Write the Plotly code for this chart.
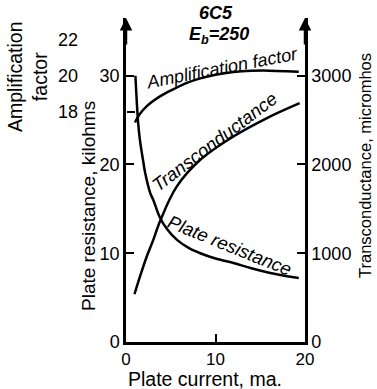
import plotly.graph_objects as go

# Plate resistance (kilohms) vs plate current (ma)
rp_current = [1.05, 1.35, 1.55, 1.9, 2.15, 2.7, 3.05, 3.8, 4.6, 5.7, 7.0, 8.3, 10, 12, 14, 16, 18, 19.3]
rp_kilohms = [30, 24.8, 22.8, 20.5, 19.0, 16.8, 16.0, 14.0, 12.7, 11.5, 10.6, 10.0, 9.4, 8.9, 8.3, 7.8, 7.4, 7.2]

# Transconductance (micromhos)
gm_current = [0.95, 1.56, 2.31, 3.05, 3.8, 5.66, 8.27, 12, 15.7, 19.4]
gm_micromhos = [540, 736, 960, 1150, 1360, 1750, 2050, 2315, 2520, 2690]

# Amplification factor
mu_current = [1.0, 1.5, 2.3, 3.8, 5.3, 6.8, 8.3, 10, 12, 14, 16, 18, 19.3]
mu_values = [17.4, 17.85, 18.3, 18.85, 19.25, 19.6, 19.85, 20.05, 20.2, 20.27, 20.28, 20.25, 20.22]

x_ticks = [0, 10, 20]
rp_ticks = [0, 10, 20, 30]
gm_ticks = [0, 1000, 2000, 3000]
mu_ticks = [18, 20, 22]

FONT = "Liberation Sans"
BLACK = "black"
LW = 2.5

Y_TOP = 36.5
px_per_k = 8.87
px_per_mu = 18.0
k_per_mu = px_per_mu / px_per_k
mu_lo = 20 - 30 / k_per_mu
mu_hi = 20 + (Y_TOP - 30) / k_per_mu

fig = go.Figure()
fig.add_trace(go.Scatter(x=rp_current, y=rp_kilohms, mode="lines", line=dict(color=BLACK, width=LW, shape="spline"), yaxis="y"))
fig.add_trace(go.Scatter(x=gm_current, y=gm_micromhos, mode="lines", line=dict(color=BLACK, width=LW, shape="spline"), yaxis="y2"))
fig.add_trace(go.Scatter(x=mu_current, y=mu_values, mode="lines", line=dict(color=BLACK, width=LW, shape="spline"), yaxis="y3"))
fig.add_trace(go.Scatter(x=[None], y=[None], yaxis="y4", showlegend=False))

tickfont = dict(family=FONT, size=18, color=BLACK)

fig.update_layout(
    template="none",
    width=377, height=389,
    margin=dict(l=126, r=72, t=18, b=47, autoexpand=False),
    paper_bgcolor="white", plot_bgcolor="white",
    showlegend=False,
    hovermode=False,
    xaxis=dict(range=[0, 20], domain=[0, 1], tickvals=x_ticks, ticks="inside", ticklen=8, tickwidth=2,
               tickcolor=BLACK, showline=True, linewidth=LW, linecolor=BLACK, showgrid=False, zeroline=False,
               tickfont=dict(family=FONT, size=17, color=BLACK), automargin=False),
    yaxis=dict(range=[0, Y_TOP], tickvals=rp_ticks, ticks="inside", ticklen=8, tickwidth=2, tickcolor=BLACK,
               showline=True, linewidth=LW, linecolor=BLACK, showgrid=False, zeroline=False,
               tickfont=tickfont, automargin=False),
    yaxis2=dict(range=[0, Y_TOP * 100], tickvals=gm_ticks, ticks="inside", ticklen=8, tickwidth=2, tickcolor=BLACK,
                overlaying="y", side="right", anchor="x",
                showline=True, linewidth=LW, linecolor=BLACK, showgrid=False, zeroline=False,
                tickfont=tickfont, automargin=False),
    yaxis3=dict(range=[mu_lo, mu_hi], tickvals=mu_ticks, ticks="", overlaying="y", side="left",
                anchor="free", position=0, showline=False, showgrid=False, zeroline=False,
                tickfont=tickfont, ticklabelstandoff=48, automargin=False),
    yaxis4=dict(range=[mu_lo, mu_hi], tickvals=[18], ticks="inside", ticklen=8, tickwidth=2, tickcolor=BLACK,
                overlaying="y", side="left", anchor="free", position=0, showline=False, showgrid=False,
                zeroline=False, showticklabels=False, automargin=False),
)

W, H = 179.0, 324.0  # plot area size in px


def px(xp, yp):
    """reference pixel position to paper coords"""
    return (xp - 126) / W, (342 - yp) / H


ann = []
for xp in (0, 1):
    ann.append(dict(x=xp, y=1, xref="paper", yref="paper", ax=0, ay=28, showarrow=True,
                    arrowhead=2, arrowsize=1, arrowwidth=LW, arrowcolor=BLACK, text=""))
tf = dict(family=FONT, size=19.5, color=BLACK)


def txt(xy, text, font, angle=0):
    x, y = px(*xy)
    return dict(x=x, y=y, xref="paper", yref="paper", text=text, showarrow=False, textangle=angle,
                xanchor="center", yanchor="middle", font=font)


ann += [
    txt((216, 13), "<b><i>6C5</i></b>", dict(family=FONT, size=18, color=BLACK)),
    txt((219, 35), "<b><i>E<sub>b</sub>=250</i></b>", dict(family=FONT, size=18, color=BLACK)),
    txt((205, 378.5), "Plate current, ma.", tf),
    txt((88, 206), "Plate resistance, kilohms", dict(family=FONT, size=19, color=BLACK), -90),
    txt((27, 77), "Amplification<br>factor", tf, -90),
    txt((365, 166), "Transconductance, micromhos", dict(family=FONT, size=16.5, color=BLACK), -90),
    dict(x=10.73, y=30.9, xref="x", yref="y", text="<i>Amplification factor</i>", showarrow=False,
         textangle=-11, xanchor="center", yanchor="middle", font=dict(family=FONT, size=18, color=BLACK)),
    dict(x=9.9, y=22.6, xref="x", yref="y", text="<i>Transconductance</i>", showarrow=False,
         textangle=-37, xanchor="center", yanchor="middle", font=dict(family=FONT, size=18.5, color=BLACK)),
    dict(x=11.6, y=10.9, xref="x", yref="y", text="<i>Plate resistance</i>", showarrow=False,
         textangle=22, xanchor="center", yanchor="middle", font=dict(family=FONT, size=18.5, color=BLACK)),
]
fig.update_layout(annotations=ann)

fig.write_html("out.html", config=dict(displayModeBar=False),
               post_script="document.body.style.margin='0';")
